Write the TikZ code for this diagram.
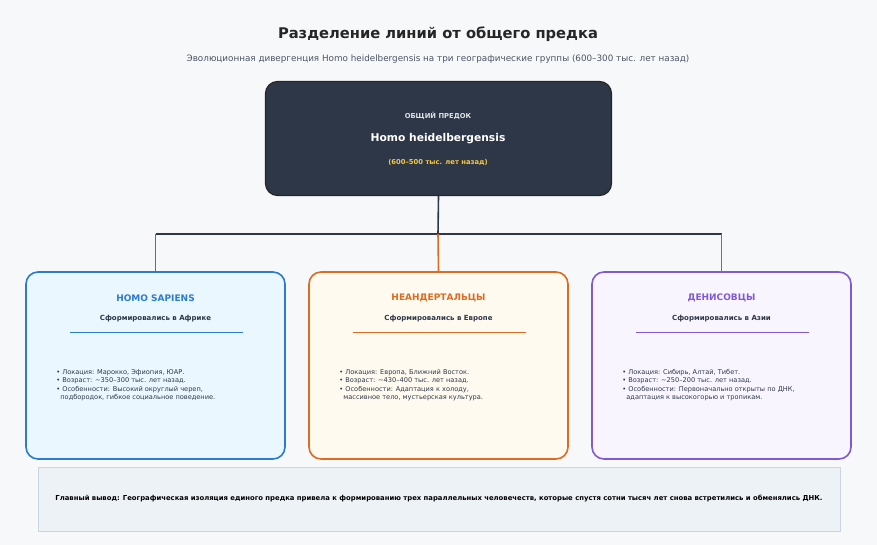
\documentclass[tikz,border=0pt]{standalone}
\usepackage{fontspec}
\setmainfont{DejaVu Sans}
\usetikzlibrary{positioning}
\definecolor{bgc}{HTML}{F7F8FA}
\definecolor{dark}{HTML}{2D3748}
\definecolor{gold}{HTML}{F6C744}
\definecolor{txt}{HTML}{2D3748}
\definecolor{sapc}{HTML}{2B7BD0}
\definecolor{sapf}{HTML}{EBF7FF}
\definecolor{neac}{HTML}{DD6B20}
\definecolor{neaf}{HTML}{FFFAEF}
\definecolor{denc}{HTML}{805AD5}
\definecolor{denf}{HTML}{F9F5FF}
\definecolor{notef}{HTML}{EDF2F7}
\definecolor{notec}{HTML}{CBD5E0}
\tikzset{
  group/.style={draw=#1, line width=1.6pt, rounded corners=12pt, minimum width=259pt, minimum height=187pt, inner sep=0pt},
  gtitle/.style={font=\bfseries\fontsize{9}{10}\selectfont, text=#1},
  gsub/.style={font=\bfseries\fontsize{7}{8}\selectfont, text=txt},
  gtext/.style={font=\fontsize{6.6}{8.4}\selectfont, text=txt, align=left, anchor=north west, inner sep=0pt},
  link/.style={line width=1.6pt, color=#1}
}
\begin{document}
\begin{tikzpicture}[x=1pt,y=-1pt]
\fill[bgc] (0,0) rectangle (877,545);
\useasboundingbox (0,0) rectangle (877,545);

\node (title) at (438,34) {\bfseries\fontsize{14.7}{17}\selectfont\color{black!85} Разделение линий от общего предка};
\node (subtitle) at (438,59) {\fontsize{8.8}{10}\selectfont\color{txt!85} Эволюционная дивергенция Homo heidelbergensis на три географические группы (600–300 тыс. лет назад)};

% common ancestor
\node (root) at (438.5,138.5) [draw=black!85, fill=dark, line width=1.2pt, rounded corners=12pt, minimum width=346pt, minimum height=114pt] {};
\node at (438,116) {\bfseries\fontsize{6.8}{8}\selectfont\color{white!85!dark} ОБЩИЙ ПРЕДОК};
\node at (438,139) {\bfseries\fontsize{10.7}{12}\selectfont\color{white} Homo heidelbergensis};
\node at (438,162) {\bfseries\fontsize{6.8}{8}\selectfont\color{gold} (600–500 тыс. лет назад)};

% groups
\node (sap) at (155.5,365.5) [group=sapc, fill=sapf] {};
\node (nea) at (438.5,365.5) [group=neac, fill=neaf] {};
\node (den) at (721.5,365.5) [group=denc, fill=denf] {};

\coordinate (fork) at (438,234);
\draw[link=dark] (root.south) -- (fork);
\draw[link=dark] (sap.north |- fork) -- (den.north |- fork);
\draw[link=sapc] (sap.north |- fork) -- (sap.north);
\draw[link=neac] (fork) -- (nea.north);
\draw[link=denc] (den.north |- fork) -- (den.north);

\foreach \g/\c/\t/\s/\a/\b/\e/\f in {
  sap/sapc/HOMO SAPIENS/Африке/{Марокко, Эфиопия, ЮАР.}/\textasciitilde350–300/{Высокий округлый череп,}/{подбородок, гибкое социальное поведение.},
  nea/neac/НЕАНДЕРТАЛЬЦЫ/Европе/{Европа, Ближний Восток.}/\textasciitilde430–400/{Адаптация к холоду,}/{массивное тело, мустьерская культура.},
  den/denc/ДЕНИСОВЦЫ/Азии/{Сибирь, Алтай, Тибет.}/\textasciitilde250–200/{Первоначально открыты по ДНК,}/{адаптация к высокогорью и тропикам.}}{
  \node[gtitle=\c] at ([yshift=-27pt]\g.north) {\t};
  \node[gsub] at ([yshift=-47pt]\g.north) {Сформировались в \s};
  \draw[\c, line width=0.8pt] ([xshift=-86pt,yshift=-61pt]\g.north) -- ([xshift=87pt,yshift=-61pt]\g.north);
  \node[gtext] at ([xshift=31pt,yshift=-98pt]\g.north west) {• Локация: \a\\• Возраст: \b{} тыс. лет назад.\\• Особенности: \e\\\hspace*{4pt}\f};
}

% conclusion
\node (note) at (439,499) [draw=notec, fill=notef, line width=0.8pt, minimum width=802pt, minimum height=64pt] {\bfseries\fontsize{6.85}{8}\selectfont Главный вывод: Географическая изоляция единого предка привела к формированию трех параллельных человечеств, которые спустя сотни тысяч лет снова встретились и обменялись ДНК.};
\end{tikzpicture}
\end{document}
